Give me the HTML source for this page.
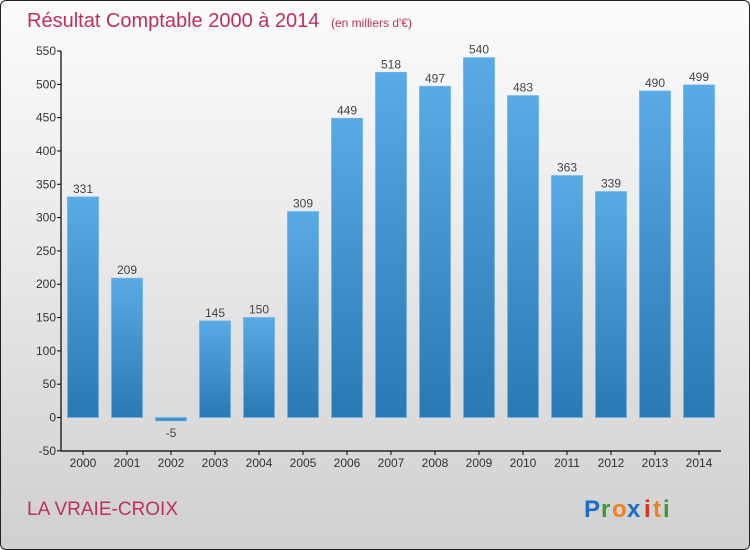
<!DOCTYPE html>
<html><head><meta charset="utf-8"><style>
body{margin:0;width:750px;height:550px;overflow:hidden;font-family:"Liberation Sans",sans-serif}
#wrap{position:absolute;left:0;top:0;width:748px;height:548px;border:1px solid #222;border-radius:6px;background:linear-gradient(#fbfbfb,#f0f0f0 30%,#d0d0d0);overflow:hidden}
</style></head><body>
<div id="wrap">
<svg id="chart" width="750" height="550">
<defs><linearGradient id="bg" x1="0" y1="0" x2="0" y2="1"><stop offset="0" stop-color="#5aaae6"/><stop offset="1" stop-color="#2a78b4"/></linearGradient></defs>
<text x="26" y="26" font-size="20" fill="#c0305f">Résultat Comptable 2000 à 2014 <tspan font-size="12" dx="6">(en milliers d'€)</tspan></text>
<text x="26" y="514" font-size="19" fill="#c0305f">LA VRAIE-CROIX</text>
<g font-size="24" font-weight="bold"><text x="583" y="516" fill="#1a6fc4">P</text><text x="600" y="516" fill="#3a9a3a">r</text><text x="611" y="516" fill="#f08020">o</text><text x="626" y="516" fill="#1a6fc4">x</text><text x="643" y="516" fill="#e03020">i</text><text x="652" y="516" fill="#f08020">t</text><text x="662" y="516" fill="#3a9a3a">i</text></g>
<g id="plot"></g>
</svg></div>
<script>
const years=["2000","2001","2002","2003","2004","2005","2006","2007","2008","2009","2010","2011","2012","2013","2014"];
const values=[331,209,-5,145,150,309,449,518,497,540,483,363,339,490,499];
const yTicks=[-50,0,50,100,150,200,250,300,350,400,450,500,550];
const NS="http://www.w3.org/2000/svg",g=document.getElementById('plot');
const y=v=>416.5-v*(366.5/550), x=i=>82+i*44;
function mk(t,a,txt){const e=document.createElementNS(NS,t);for(const k in a)e.setAttribute(k,a[k]);if(txt!==undefined)e.textContent=txt;g.appendChild(e);return e;}
values.forEach((v,i)=>{
 const b=mk('rect',{x:x(i)-15.5,y:Math.min(y(v),y(0)),width:31,height:Math.max(Math.abs(y(v)-y(0)),1),fill:'url(#bg)',stroke:'#6ab4ec','stroke-width':0.8});
 
 
 const l=mk('text',{x:x(i),y:v>=0?y(v)-4:y(v)+16,'font-size':12,fill:'#444','text-anchor':'middle'},String(v));
 
 
 const t=mk('text',{x:x(i),y:466,'font-size':12,fill:'#333','text-anchor':'middle'},years[i]);
 
 
 mk('line',{x1:x(i),x2:x(i),y1:450,y2:454,stroke:'#000'});
});
yTicks.forEach(v=>{
 mk('line',{x1:56,x2:60,y1:y(v),y2:y(v),stroke:'#000'});
 const t=mk('text',{x:55,y:y(v)+4,'font-size':12,fill:'#333','text-anchor':'end'},String(v));
 
 
});
const ya=mk('line',{x1:60,x2:60,y1:50,y2:450,stroke:'#000','stroke-width':1.2});


const xa=mk('line',{x1:60,x2:720,y1:450,y2:450,stroke:'#000','stroke-width':1.2});


</script>
</body></html>
